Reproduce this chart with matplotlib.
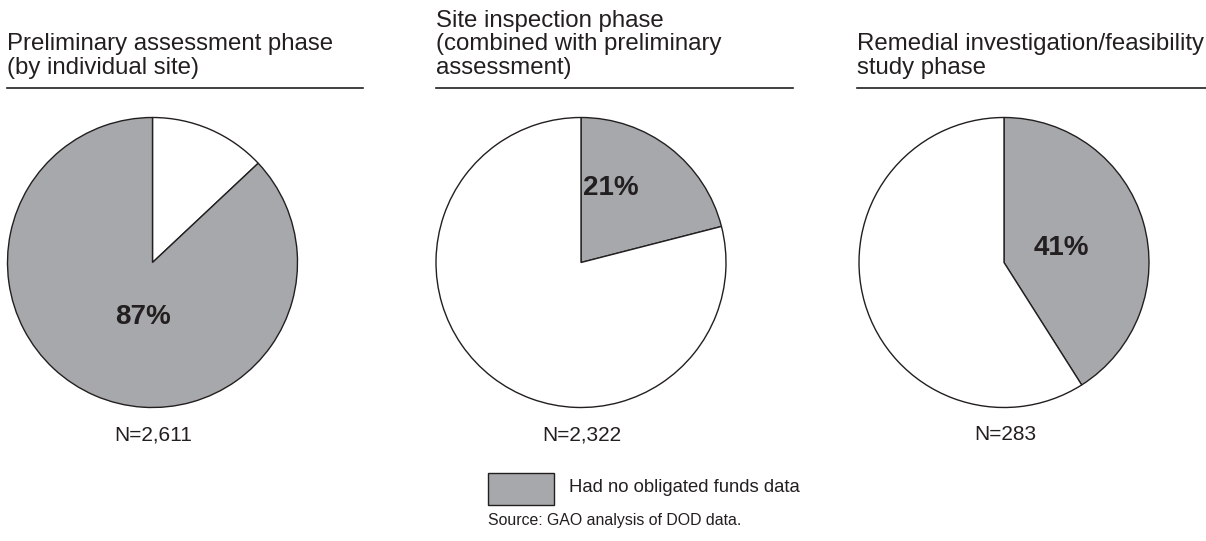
import matplotlib
matplotlib.use("Agg")
import matplotlib.pyplot as plt
from matplotlib.patches import Rectangle
from matplotlib.lines import Line2D

plt.rcParams['font.family'] = ['Liberation Sans', 'DejaVu Sans']

# data
phases = [
    "Preliminary assessment phase\n(by individual site)",
    "Site inspection phase\n(combined with preliminary\nassessment)",
    "Remedial investigation/feasibility\nstudy phase",
]
no_data_pct = [87, 21, 41]
n_sites = [2611, 2322, 283]
legend_label = "Had no obligated funds data"
source_note = "Source: GAO analysis of DOD data."

GRAY = "#a7a8ab"
INK = "#231f20"
W, H = 1206, 541

fig = plt.figure(figsize=(W / 100, H / 100), dpi=100)


def fx(px):
    return px / W


def fy(py):
    return 1 - py / H


# layout in pixels
centers = [152.5, 581, 1004]
cy = 262.5
radius = 145
title_x = [7, 436, 857]
rule_end = [363, 793, 1206]
title_base = 74  # baseline of last title line
pct_pos = [(-9.5, 54.5), (30, -74.5), (57, -14.5)]

for i, pct in enumerate(no_data_pct):
    pad = 1.03
    ax = fig.add_axes([fx(centers[i] - radius * pad), fy(cy + radius * pad),
                       fx(2 * radius * pad), 2 * radius * pad / H])
    if i == 0:
        vals = [100 - pct, pct]
        cols = ["white", GRAY]
    else:
        vals = [pct, 100 - pct]
        cols = [GRAY, "white"]
    ax.pie(vals, colors=cols, startangle=90, counterclock=False, radius=1,
           wedgeprops=dict(edgecolor=INK, linewidth=1.0))
    ax.set_xlim(-pad, pad)
    ax.set_ylim(-pad, pad)
    ax.set_aspect("equal")
    ax.axis("off")
    dx, dy = pct_pos[i]
    ax.text(dx / radius, -dy / radius, f"{pct}%", ha="center", va="center",
            fontsize=20, fontweight="bold", color=INK)

    # title + rule
    fig.text(fx(title_x[i]), fy(title_base), phases[i], ha="left",
             va="baseline", fontsize=17.3, color=INK, linespacing=1.09)
    fig.add_artist(Line2D([fx(title_x[i]), fx(rule_end[i])], [fy(88), fy(88)],
                          color=INK, linewidth=1.2))
    # N label
    fig.text(fx(centers[i] + 1), fy(435), f"N={n_sites[i]:,}", ha="center",
             va="center", fontsize=15, color=INK)

# legend
fig.add_artist(Rectangle((fx(488), fy(505)), fx(66), 32 / H, facecolor=GRAY,
                         edgecolor=INK, linewidth=1.0, transform=fig.transFigure))
fig.text(fx(569), fy(488), legend_label, ha="left", va="center",
         fontsize=13.3, color=INK)
fig.text(fx(488), fy(521), source_note, ha="left", va="center",
         fontsize=11.4, color=INK)

fig.savefig("out.png", dpi=100, facecolor="white")
